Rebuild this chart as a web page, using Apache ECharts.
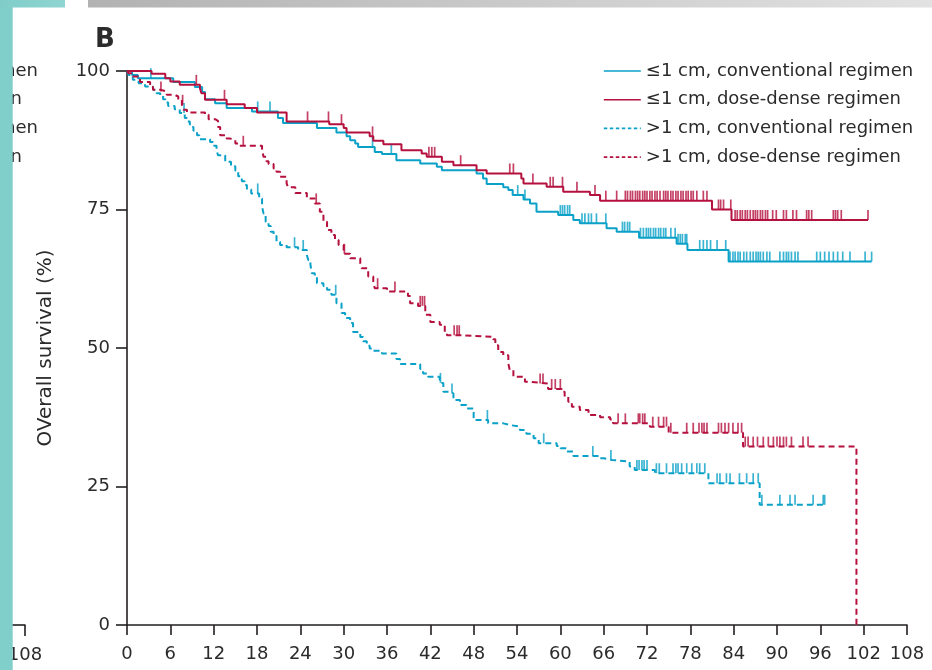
<!DOCTYPE html>
<html>
<head>
<meta charset="utf-8">
<script src="https://cdn.jsdelivr.net/npm/echarts@6/dist/echarts.min.js"></script>
<style>
  html, body { margin: 0; padding: 0; background: #ffffff; }
  #chart { width: 932px; height: 670px; }
</style>
</head>
<body>
<div id="chart"></div>
<script>
// ---- Axis ticks -------------------------------------------------------
const monthTicks = [0, 6, 12, 18, 24, 30, 36, 42, 48, 54, 60, 66, 72, 78, 84, 90, 96, 102, 108];
const survivalTicks = [0, 25, 50, 75, 100];

// ---- Group names --------------------------------------------------------
const groupNames = [
  '≤1 cm, conventional regimen',
  '≤1 cm, dose-dense regimen',
  '>1 cm, conventional regimen',
  '>1 cm, dose-dense regimen'
];

// ---- Kaplan-Meier steps: [month, overall survival %] -------------------
const smallConventional = [
  [0,100],[0.7,99.3],[1.5,98.7],[6.4,98.0],[9.4,97.1],[10.4,96.2],[10.8,94.9],[12.2,94.2],
  [13.8,93.3],[17.3,92.7],[20.9,91.5],[21.6,90.6],[26.3,89.7],[29.0,88.9],[30.4,88.2],[30.9,87.5],
  [31.6,86.9],[32.0,86.3],[34.3,85.4],[35.3,85.0],[37.3,83.9],[40.6,83.3],[42.9,82.7],[43.6,82.1],
  [48.4,81.5],[49.3,80.6],[49.8,79.6],[52.1,79.0],[52.8,78.5],[53.4,77.6],[54.9,76.8],[55.8,76.1],
  [56.7,74.6],[59.7,74.0],[61.8,73.1],[62.7,72.5],[66.4,71.6],[67.8,71.0],[70.9,69.9],[76.1,68.8],
  [77.6,67.7],[83.3,65.6],[103.1,65.6]
];
const smallDoseDense = [
  [0,100],[3.4,99.5],[5.3,98.7],[6.0,98.1],[7.3,97.5],[10.1,96.9],[10.3,96.0],[10.8,94.8],
  [13.8,94.0],[16.3,93.3],[18.0,92.5],[22.1,90.9],[28.0,90.4],[30.0,89.7],[30.4,88.9],[33.6,88.2],
  [34.1,87.4],[35.5,86.8],[38.0,85.7],[40.8,85.1],[41.5,84.5],[43.6,83.6],[45.2,83.0],[48.4,82.1],
  [49.8,81.5],[54.6,80.6],[54.9,79.7],[58.1,79.1],[60.4,78.2],[64.1,77.6],[65.5,76.6],[81.0,75.0],
  [83.7,73.1],[102.6,73.1]
];
const largeConventional = [
  [0,100],[0.2,99.3],[0.8,98.4],[1.6,97.8],[2.5,97.2],[3.6,96.6],[4.1,96.0],[4.6,95.5],[5.0,94.9],
  [5.3,94.3],[5.7,93.7],[6.6,93.1],[7.3,92.4],[8.0,91.5],[8.3,90.9],[8.7,89.9],[9.2,89.2],[9.7,88.4],
  [10.0,87.7],[11.5,87.2],[11.9,86.5],[12.4,85.7],[12.6,84.8],[13.6,83.6],[14.4,82.8],[15.0,82.0],
  [15.4,81.0],[15.9,80.1],[16.3,79.4],[16.6,78.6],[17.2,77.9],[18.3,77.0],[18.7,75.5],[18.9,74.3],
  [19.2,72.8],[19.6,72.0],[19.9,71.0],[20.3,70.2],[20.7,69.2],[21.2,68.6],[22.1,68.2],[23.7,67.7],
  [24.9,66.8],[25.1,65.9],[25.4,65.0],[25.6,63.5],[26.0,62.9],[26.3,61.7],[27.2,61.2],[27.7,60.5],
  [28.3,59.6],[29.0,58.1],[29.7,56.3],[30.2,55.4],[30.9,54.5],[31.3,52.9],[32.3,52.0],[32.7,51.2],
  [33.2,50.4],[33.6,49.9],[34.1,49.5],[35.3,49.0],[37.3,48.0],[37.8,47.1],[40.6,46.2],[41.0,45.4],
  [41.7,44.8],[43.3,43.7],[43.8,42.1],[44.7,41.8],[45.2,40.6],[46.1,39.7],[47.0,39.1],[48.0,37.0],
  [50.0,36.4],[52.1,36.1],[53.0,35.8],[54.4,35.2],[55.3,34.5],[56.3,33.7],[57.0,32.8],[59.5,32.3],
  [60.0,31.9],[60.9,31.3],[61.8,30.5],[65.5,30.1],[66.0,29.8],[67.1,29.5],[69.6,28.6],[70.3,28.0],
  [73.1,27.4],[80.5,25.6],[87.6,21.7],[96.6,21.7]
];
const largeDoseDense = [
  [0,100],[0.2,99.6],[0.6,99.0],[1.8,98.0],[3.2,97.1],[3.6,96.6],[4.6,96.3],[5.5,95.7],[6.6,95.4],
  [7.1,94.8],[7.6,93.9],[7.8,93.0],[8.3,92.5],[10.8,92.1],[11.3,91.3],[12.2,91.0],[12.6,89.9],
  [12.9,88.4],[13.8,87.8],[14.3,87.5],[15.0,86.9],[15.6,86.5],[18.7,86.0],[18.9,84.5],[19.3,83.7],
  [19.6,83.2],[20.3,82.4],[20.7,81.8],[21.2,80.9],[22.1,79.7],[22.3,79.0],[23.3,78.0],[24.9,77.0],
  [26.0,76.1],[26.7,74.6],[27.2,72.8],[27.7,71.3],[28.3,70.4],[28.8,69.5],[29.3,68.6],[30.0,67.0],
  [30.9,66.2],[32.3,65.3],[32.5,64.4],[33.4,62.9],[34.1,62.0],[34.3,60.8],[36.0,60.2],[38.9,59.4],
  [39.2,58.1],[40.3,57.6],[41.3,56.0],[42.0,54.7],[43.3,54.2],[44.0,52.7],[44.3,52.3],[46.1,52.0],
  [50.7,51.6],[51.0,50.5],[51.4,49.3],[52.1,48.7],[52.8,47.2],[53.0,46.0],[53.5,44.8],[55.1,43.9],
  [55.6,43.6],[58.3,42.6],[60.2,42.1],[60.6,41.2],[61.1,40.3],[61.6,39.4],[62.7,38.8],[63.9,37.9],
  [65.5,37.5],[66.9,37.1],[67.3,36.4],[72.4,35.8],[75.0,34.7],[85.3,32.2],[101.0,0]
];

// ---- Censoring times (months) -------------------------------------------
const smallConventionalCensored = [
  3.3,18.1,19.8,34.0,36.6,54.1,55.1,60.0,60.3,60.6,61.0,61.3,63.0,63.4,63.9,64.3,65.0,66.3,
  68.6,68.9,69.3,69.6,71.1,71.5,71.9,72.2,72.5,72.9,73.2,73.6,73.9,74.3,74.6,75.3,75.9,
  76.3,76.6,76.9,77.3,77.5,79.3,79.8,80.3,80.8,81.7,82.9,83.5,83.9,84.2,84.6,84.9,85.4,85.8,
  86.3,86.7,87.1,87.4,87.7,88.1,88.6,89.0,90.4,90.9,91.3,91.6,92.0,92.5,92.9,95.5,96.0,96.6,
  97.2,97.8,98.4,99.1,100.1,102.2,103.1
];
const smallDoseDenseCensored = [
  9.6,13.5,25.0,27.9,29.7,34.0,41.8,42.2,42.6,46.2,53.0,53.5,56.2,58.6,59.0,60.3,62.3,64.8,
  66.3,67.8,69.0,69.3,69.7,70.0,70.4,70.7,71.0,71.4,71.7,72.0,72.4,72.7,73.1,73.4,73.8,74.3,
  74.6,74.9,75.3,75.6,76.0,76.3,76.7,77.0,77.4,77.7,78.1,78.4,78.9,79.8,80.3,81.9,82.2,82.6,
  83.6,84.2,84.5,84.9,85.2,85.6,85.9,86.3,86.7,87.0,87.3,87.7,88.0,88.4,88.7,89.4,89.9,90.9,
  91.3,92.2,92.7,94.1,94.4,94.8,97.8,98.1,98.4,98.9,102.6
];
const largeConventionalCensored = [
  7.9,18.1,23.2,24.4,28.9,43.4,45.0,49.9,57.7,64.5,67.0,70.6,70.9,71.3,71.6,72.0,73.3,73.7,
  74.7,75.6,76.0,76.3,76.8,77.5,78.2,78.9,79.3,80.0,81.7,82.1,83.0,83.5,84.8,85.8,86.7,87.4,
  87.9,90.4,91.8,92.5,95.0,96.4,96.6
];
const largeDoseDenseCensored = [
  4.7,7.7,16.1,26.2,30.1,34.7,37.1,40.6,40.9,41.2,45.3,45.7,46.0,57.2,57.6,58.8,59.3,60.0,
  68.0,69.0,70.8,71.0,71.4,71.7,72.8,73.6,74.3,74.7,75.3,77.5,78.4,79.2,79.6,79.9,80.3,81.9,
  82.3,82.8,83.3,83.9,84.6,85.1,85.6,86.0,86.7,87.3,88.1,88.8,89.5,90.0,90.4,90.9,91.3,92.0,
  93.6,94.3
];

// ---- Styling ----------------------------------------------------------------
const BLUE = '#0aa1c8';
const RED = '#b5113f';
const INK = '#2b2b2b';
const FONT = '"DejaVu Sans", "Noto Sans", sans-serif';
const CURVE_DASH = [6, 4];
const KEY_DASH = [3.5, 2.5];

// survival level of a step curve at time t
function levelAt(steps, t) {
  let v = steps[0][1];
  for (const [m, p] of steps) { if (m <= t) v = p; else break; }
  return v;
}

const groups = [
  { name: groupNames[0], steps: smallConventional, censored: smallConventionalCensored, color: BLUE, dashed: false },
  { name: groupNames[1], steps: smallDoseDense, censored: smallDoseDenseCensored, color: RED, dashed: false },
  { name: groupNames[2], steps: largeConventional, censored: largeConventionalCensored, color: BLUE, dashed: true },
  { name: groupNames[3], steps: largeDoseDense, censored: largeDoseDenseCensored, color: RED, dashed: true }
];

const series = [];
groups.forEach((g, i) => {
  series.push({
    type: 'line',
    name: g.name,
    data: g.steps,
    step: 'end',
    symbol: 'none',
    z: 3 + i,
    lineStyle: { color: g.color, width: 2, type: g.dashed ? CURVE_DASH : 'solid' },
    itemStyle: { color: g.color },
    animation: false
  });
  series.push({
    type: 'scatter',
    name: g.name + ' (censored)',
    data: g.censored.map(t => [t, levelAt(g.steps, t)]),
    symbol: 'rect',
    symbolSize: [1.7, 10],
    symbolOffset: [0, -5],
    z: 3 + i,
    itemStyle: { color: g.color },
    silent: true,
    animation: false
  });
});

const chart = echarts.init(document.getElementById('chart'));
chart.setOption({
  backgroundColor: '#ffffff',
  animation: false,
  textStyle: { fontFamily: FONT },
  grid: { left: 127, top: 71, right: 25, bottom: 45, containLabel: false },
  legend: {
    orient: 'vertical',
    left: 603,
    top: 60,
    padding: 0,
    itemWidth: 37,
    itemHeight: 14,
    itemGap: 6.7,
    data: groups.map(g => ({
      name: g.name,
      lineStyle: { width: 1.6, type: g.dashed ? KEY_DASH : 'solid' }
    })),
    selectedMode: false,
    itemStyle: { opacity: 0 },
    textStyle: { fontFamily: FONT, fontSize: 18, color: INK, lineHeight: 22 }
  },
  xAxis: {
    type: 'value',
    min: monthTicks[0],
    max: monthTicks[monthTicks.length - 1],
    interval: monthTicks[1] - monthTicks[0],
    axisLine: { show: true, lineStyle: { color: '#231f20', width: 1.6 } },
    axisTick: { show: true, length: 10, lineStyle: { color: '#231f20', width: 1.6 } },
    axisLabel: { fontFamily: FONT, fontSize: 18, color: INK, margin: 20, showMinLabel: true, showMaxLabel: true },
    splitLine: { show: false }
  },
  yAxis: {
    type: 'value',
    min: survivalTicks[0],
    max: survivalTicks[survivalTicks.length - 1],
    interval: survivalTicks[1] - survivalTicks[0],
    name: 'OVerall survival (%)',
    nameLocation: 'middle',
    nameRotate: 90,
    nameGap: 71,
    nameTextStyle: { fontFamily: FONT, fontSize: 20, color: INK },
    axisLine: { show: true, lineStyle: { color: '#231f20', width: 1.6 } },
    axisTick: { show: true, length: 11, lineStyle: { color: '#231f20', width: 1.6 } },
    axisLabel: { fontFamily: FONT, fontSize: 18, color: INK, margin: 17 },
    splitLine: { show: false }
  },
  graphic: [
    // panel letter
    { type: 'text', left: 95, top: 27, style: { text: 'B', font: 'bold 26px ' + FONT, fill: INK } },
    // trailing edge of the neighbouring panel
    { type: 'text', x: 38, y: 71, style: { text: 'regimen', font: '18px ' + FONT, fill: INK, align: 'right', verticalAlign: 'middle' } },
    { type: 'text', x: 22, y: 99, style: { text: 'regimen', font: '18px ' + FONT, fill: INK, align: 'right', verticalAlign: 'middle' } },
    { type: 'text', x: 38, y: 128, style: { text: 'regimen', font: '18px ' + FONT, fill: INK, align: 'right', verticalAlign: 'middle' } },
    { type: 'text', x: 22, y: 157, style: { text: 'regimen', font: '18px ' + FONT, fill: INK, align: 'right', verticalAlign: 'middle' } },
    { type: 'line', shape: { x1: 0, y1: 625, x2: 25.5, y2: 625 }, style: { stroke: '#231f20', lineWidth: 1.6 } },
    { type: 'line', shape: { x1: 25, y1: 625, x2: 25, y2: 636 }, style: { stroke: '#231f20', lineWidth: 1.6 } },
    { type: 'text', x: 25, y: 655, style: { text: '108', font: '18px ' + FONT, fill: INK, align: 'center', verticalAlign: 'middle' } },
    // page furniture
    { type: 'rect', z: 100, shape: { x: 0, y: 0, width: 12.7, height: 670 }, style: { fill: '#80cfcb' } },
    { type: 'rect', z: 100, shape: { x: 0, y: 0, width: 65, height: 7.5 },
      style: { fill: new echarts.graphic.LinearGradient(0, 0, 1, 0, [{ offset: 0, color: '#7fcdc9' }, { offset: 1, color: '#8fd5d1' }]) } },
    { type: 'rect', z: 100, shape: { x: 88, y: 0, width: 844, height: 7.5 },
      style: { fill: new echarts.graphic.LinearGradient(0, 0, 1, 0, [{ offset: 0, color: '#b2b2b2' }, { offset: 1, color: '#e2e2e2' }]) } }
  ],
  series: series
});
</script>
</body>
</html>
